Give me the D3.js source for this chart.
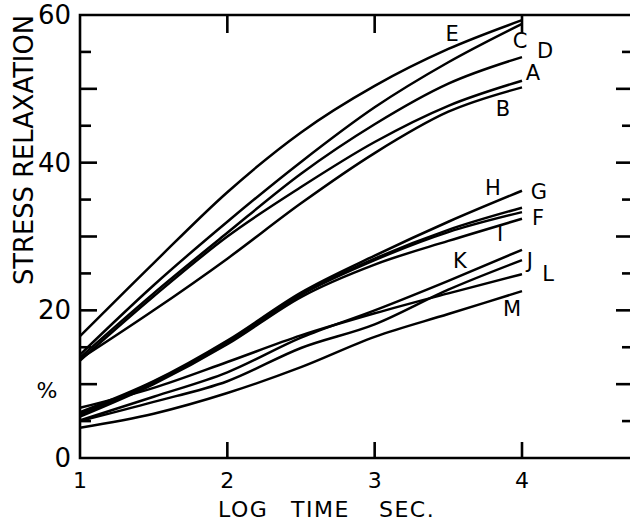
<!DOCTYPE html>
<html>
<head>
<meta charset="utf-8">
<script src="https://cdn.jsdelivr.net/npm/d3@7"></script>
<style>
	body { margin: 0; background: #fff; }
	svg { display: block; }
	text { font-family: "DejaVu Sans", sans-serif; fill: #000; }
</style>
</head>
<body>
<div id="chart"></div>
<script>
// log time (sec) at which each curve was read
var logTime = [1, 1.5, 2, 2.5, 3, 3.5, 4];

// stress relaxation %, upper group
var curveE = [16.5, 26.4, 36.0, 44.1, 50.4, 55.4, 59.3];
var curveC = [14.0, 23.4, 32.0, 40.1, 47.5, 53.6, 58.8];
var curveD = [13.6, 22.3, 30.5, 38.5, 45.2, 50.7, 54.3];
var curveA = [13.2, 21.9, 30.0, 36.7, 42.8, 47.7, 51.1];
var curveB = [13.4, 20.0, 27.0, 34.5, 41.3, 46.9, 50.2];

// middle group
var curveG = [6.2, 10.4, 15.9, 22.4, 27.4, 32.0, 36.2];
var curveH = [6.0, 10.3, 15.7, 22.2, 27.0, 30.9, 33.9];
var curveF = [5.8, 10.2, 15.6, 22.1, 26.8, 30.6, 33.3];
var curveI = [5.6, 10.0, 15.4, 21.8, 26.2, 29.4, 32.4];

// lower group
var curveK = [5.1, 8.3, 11.6, 16.3, 20.0, 24.0, 28.2];
var curveJ = [5.0, 7.6, 10.4, 14.9, 18.1, 22.8, 26.8];
var curveL = [6.8, 9.5, 13.0, 16.6, 19.6, 22.3, 24.9];
var curveM = [4.1, 6.0, 8.8, 12.3, 16.4, 19.5, 22.6];

var curves = [curveE, curveC, curveD, curveA, curveB,
	curveG, curveH, curveF, curveI,
	curveK, curveJ, curveL, curveM];

// curve letters and where they sit (log time, %)
var labelNames = ["E", "C", "D", "A", "B", "H", "G", "F", "I", "K", "J", "L", "M"];
var labelX = [3.525, 3.987, 4.156, 4.075, 3.871, 3.803, 4.115, 4.109, 3.851, 3.579, 4.054, 4.177, 3.932];
var labelY = [57.6, 56.6, 55.3, 52.3, 47.4, 36.7, 36.2, 32.7, 30.5, 26.8, 26.8, 25.1, 20.3];

var xTickValues = [1, 2, 3, 4];
var yLabelValues = [0, 20, 40, 60];
var yTickValues = [5, 10, 15, 20, 25, 30, 35, 40, 45, 50, 55];
var xTitleWords = ["LOG", "TIME", "SEC."];

var width = 630;
var height = 522;

var svg = d3.select("#chart")
	.append("svg")
	.attr("width", width)
	.attr("height", height);

var x = d3.scaleLinear().domain([1, 4]).range([80, 522]);
var y = d3.scaleLinear().domain([0, 60]).range([458, 15]);
var xMax = x.invert(635);

var frame = svg.append("g")
	.attr("stroke", "#000")
	.attr("stroke-width", 2.6)
	.attr("fill", "none");

frame.append("path")
	.attr("d", "M" + x(xMax) + "," + y(60) + "H" + x(1) + "V" + y(0) + "H" + x(xMax) + "V" + y(60));

// ticks on left and right sides, longer every 10 %
yTickValues.forEach(function(v) {
	var len = (v % 10 === 0) ? 17 : 11;
	frame.append("line")
		.attr("x1", x(1)).attr("x2", x(1) + len)
		.attr("y1", y(v)).attr("y2", y(v));
	frame.append("line")
		.attr("x1", x(xMax)).attr("x2", x(xMax) - len - 2)
		.attr("y1", y(v)).attr("y2", y(v));
});

// ticks on top and bottom
xTickValues.slice(1).forEach(function(v) {
	frame.append("line")
		.attr("x1", x(v)).attr("x2", x(v))
		.attr("y1", y(0)).attr("y2", y(0) - 16);
	frame.append("line")
		.attr("x1", x(v)).attr("x2", x(v))
		.attr("y1", y(60)).attr("y2", y(60) + 18);
});

// tick labels
svg.append("g")
	.selectAll("text")
	.data(xTickValues)
	.enter()
	.append("text")
	.attr("x", function(d) { return x(d); })
	.attr("y", 488)
	.attr("text-anchor", "middle")
	.attr("font-size", 22)
	.text(function(d) { return d; });

svg.append("g")
	.selectAll("text")
	.data(yLabelValues)
	.enter()
	.append("text")
	.attr("x", 71)
	.attr("y", function(d) { return Math.max(y(d), 13) + 9; })
	.attr("text-anchor", "end")
	.attr("font-size", 26)
	.text(function(d) { return d; });

svg.append("text")
	.attr("x", 47)
	.attr("y", 398)
	.attr("text-anchor", "middle")
	.attr("font-size", 22)
	.text("%");

svg.append("text")
	.attr("transform", "translate(33,150) rotate(-90)")
	.attr("text-anchor", "middle")
	.attr("font-size", 26)
	.attr("textLength", 270)
	.attr("lengthAdjust", "spacingAndGlyphs")
	.text("STRESS  RELAXATION");

var titleStart = [218, 291, 379];
svg.append("g")
	.selectAll("text")
	.data(xTitleWords)
	.enter()
	.append("text")
	.attr("x", function(d, i) { return titleStart[i]; })
	.attr("y", 517)
	.attr("font-size", 22)
	.attr("letter-spacing", 1.5)
	.text(function(d) { return d; });

// curves
var line = d3.line()
	.x(function(d, i) { return x(logTime[i]); })
	.y(function(d) { return y(d); })
	.curve(d3.curveMonotoneX);

svg.append("g")
	.attr("class", "curves")
	.selectAll("path")
	.data(curves)
	.enter()
	.append("path")
	.attr("d", line)
	.attr("fill", "none")
	.attr("stroke", "#000")
	.attr("stroke-width", 2.5);

svg.append("g")
	.selectAll("text")
	.data(labelNames)
	.enter()
	.append("text")
	.attr("x", function(d, i) { return x(labelX[i]); })
	.attr("y", function(d, i) { return y(labelY[i]) + 8; })
	.attr("text-anchor", "middle")
	.attr("font-size", 21)
	.text(function(d) { return d; });
</script>
</body>
</html>
